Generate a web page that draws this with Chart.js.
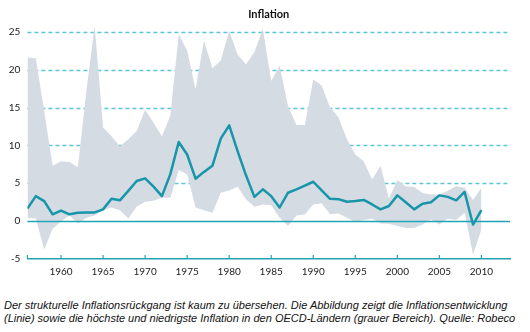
<!DOCTYPE html>
<html>
<head>
<meta charset="utf-8">
<script src="https://cdn.jsdelivr.net/npm/chart.js@4.4.1/dist/chart.umd.min.js"></script>
<style>
  html, body { margin: 0; padding: 0; background: #fff; }
  #wrap { position: relative; width: 530px; height: 332px; }
  #chart { position: absolute; left: 0; top: 0; }
  .caption {
    position: absolute; left: 4px; top: 299px; width: 526px;
    font: italic 11px "Liberation Sans", Arial, sans-serif;
    line-height: 13px; color: #111; white-space: nowrap;
  }
</style>
</head>
<body>
<div id="wrap">
  <canvas id="chart" width="530" height="280" role="img" aria-label="Inflation"></canvas>
  <div class="caption">Der strukturelle Inflationsrückgang ist kaum zu übersehen. Die Abbildung zeigt die Inflationsentwicklung<br>(Linie) sowie die höchste und niedrigste Inflation in den OECD-Ländern (grauer Bereich). Quelle: Robeco</div>
</div>
<script>
const years = [1956, 1957, 1958, 1959, 1960, 1961, 1962, 1963, 1964, 1965,
  1966, 1967, 1968, 1969, 1970, 1971, 1972, 1973, 1974, 1975,
  1976, 1977, 1978, 1979, 1980, 1981, 1982, 1983, 1984, 1985,
  1986, 1987, 1988, 1989, 1990, 1991, 1992, 1993, 1994, 1995,
  1996, 1997, 1998, 1999, 2000, 2001, 2002, 2003, 2004, 2005,
  2006, 2007, 2008, 2009, 2010];

// OECD inflation line
const avgInflation = [1.65, 3.3, 2.65, 0.9, 1.4, 0.9, 1.1, 1.15, 1.15, 1.55,
  2.95, 2.75, 4.0, 5.3, 5.65, 4.55, 3.3, 6.2, 10.45, 8.8,
  5.6, 6.5, 7.3, 10.9, 12.65, 9.25, 6.05, 3.2, 4.2, 3.3,
  1.8, 3.75, 4.2, 4.7, 5.2, 4.05, 2.95, 2.9, 2.55, 2.65,
  2.8, 2.2, 1.55, 2.0, 3.4, 2.5, 1.55, 2.3, 2.5, 3.4,
  3.2, 2.75, 3.85, -0.45, 1.45];

// highest / lowest inflation (grey band)
const maxInflation = [21.6, 21.5, 14.5, 7.3, 7.9, 7.8, 7.1, 17.0, 25.8, 12.4,
  11.2, 9.9, 10.8, 11.9, 14.7, 13.0, 11.2, 13.9, 24.7, 22.5,
  17.4, 23.8, 20.2, 21.2, 25.1, 22.0, 20.7, 22.3, 25.4, 18.5,
  20.5, 15.2, 12.7, 12.7, 18.7, 17.9, 15.0, 13.7, 10.8, 8.8,
  7.9, 5.5, 7.3, 3.0, 5.4, 4.6, 4.5, 3.7, 3.5, 3.5,
  4.0, 4.6, 4.4, 2.8, 4.4];

const minInflation = [0.45, 0.35, -3.75, -1.0, 0.0, 0.75, -0.3, 0.45, 0.75, 1.45,
  1.8, 1.45, 0.35, 1.9, 2.55, 2.7, 3.1, 3.1, 6.75, 6.2,
  1.8, 1.45, 1.1, 3.75, 4.05, 4.55, 2.9, 1.9, 2.2, 2.1,
  0.45, -0.65, 0.75, 0.9, 2.2, 2.35, 0.9, 1.0, 0.45, -0.1,
  0.15, 0.3, -0.3, -0.35, -0.65, -0.9, -0.9, -0.45, 0.2, -0.45,
  0.3, 0.15, 1.1, -4.4, -1.1];

const xTicks = [1960, 1965, 1970, 1975, 1980, 1985, 1990, 1995, 2000, 2005, 2010];
const yTicks = [-5, 0, 5, 10, 15, 20, 25];

const lineTeal = '#1795a9';
const axisTeal = '#23a2b6';
const gridTeal = '#5cc6da';
const bandGrey = '#d4dbe3';

const toPoints = vals => vals.map((v, i) => ({x: years[i], y: v}));

// dashed grid under the band, zero line over it, small ticks on the x axis
const refLines = {
  id: 'refLines',
  beforeDatasetsDraw(chart) {
    const {ctx, chartArea, scales} = chart;
    ctx.save();
    ctx.strokeStyle = gridTeal;
    ctx.lineWidth = 1.5;
    ctx.setLineDash([4, 3]);
    yTicks.filter(v => v > 0).forEach(v => {
      const y = Math.round(scales.y.getPixelForValue(v)) + 0.5;
      ctx.beginPath();
      ctx.moveTo(chartArea.left, y);
      ctx.lineTo(chartArea.right, y);
      ctx.stroke();
    });
    ctx.restore();
  },
  afterDatasetDraw(chart, args) {
    if (args.index !== 1) return;
    const {ctx, chartArea, scales} = chart;
    const y0 = Math.round(scales.y.getPixelForValue(0)) + 0.5;
    ctx.save();
    ctx.strokeStyle = axisTeal;
    ctx.lineWidth = 1.5;
    ctx.beginPath();
    ctx.moveTo(chartArea.left, y0);
    ctx.lineTo(chartArea.right, y0);
    ctx.stroke();
    ctx.restore();
  },
  afterDraw(chart) {
    const {ctx, chartArea, scales} = chart;
    ctx.save();
    ctx.strokeStyle = axisTeal;
    ctx.lineWidth = 1.2;
    [years[0]].concat(xTicks).forEach(v => {
      const x = scales.x.getPixelForValue(v);
      ctx.beginPath();
      ctx.moveTo(x, chartArea.bottom);
      ctx.lineTo(x, chartArea.bottom - 4);
      ctx.stroke();
    });
    ctx.restore();
  }
};

const chart = new Chart(document.getElementById('chart'), {
  type: 'line',
  data: {
    datasets: [
      {
        label: 'Inflation',
        data: toPoints(avgInflation),
        borderColor: lineTeal,
        borderWidth: 2.5,
        borderJoinStyle: 'round',
        pointRadius: 0,
        tension: 0,
        fill: false
      },
      {
        label: 'Höchste',
        data: toPoints(maxInflation),
        borderWidth: 0,
        borderColor: 'rgba(0,0,0,0)',
        backgroundColor: bandGrey,
        pointRadius: 0,
        tension: 0,
        fill: '+1'
      },
      {
        label: 'Niedrigste',
        data: toPoints(minInflation),
        borderWidth: 0,
        borderColor: 'rgba(0,0,0,0)',
        pointRadius: 0,
        tension: 0,
        fill: false
      }
    ]
  },
  options: {
    responsive: false,
    animation: false,
    layout: {padding: {left: 0, right: 20, top: 0, bottom: 0}},
    plugins: {
      legend: {display: false},
      tooltip: {enabled: false},
      title: {
        display: true,
        text: 'Inflation',
        fullSize: false,
        color: '#111',
        font: {family: 'Lato', weight: 'bold', size: 11},
        padding: {top: 8, bottom: 3}
      }
    },
    scales: {
      x: {
        type: 'linear',
        min: 1956,
        max: 2013.4,
        afterBuildTicks: scale => { scale.ticks = xTicks.map(v => ({value: v})); },
        afterFit: scale => { scale.height = 21; },
        grid: {display: false, drawTicks: false},
        border: {display: true, color: axisTeal, width: 1.5},
        ticks: {
          padding: 7,
          color: '#222',
          font: {family: 'Lato', size: 10},
          callback: v => String(v)
        }
      },
      y: {
        min: -5,
        max: 26,
        afterBuildTicks: scale => { scale.ticks = yTicks.map(v => ({value: v})); },
        afterFit: scale => { scale.width = 27.4; },
        grid: {display: false, drawTicks: false},
        border: {display: false},
        ticks: {
          padding: 7,
          color: '#222',
          font: {family: 'Lato', size: 10},
          callback: v => String(v)
        }
      }
    }
  },
  plugins: [refLines]
});
</script>
</body>
</html>
